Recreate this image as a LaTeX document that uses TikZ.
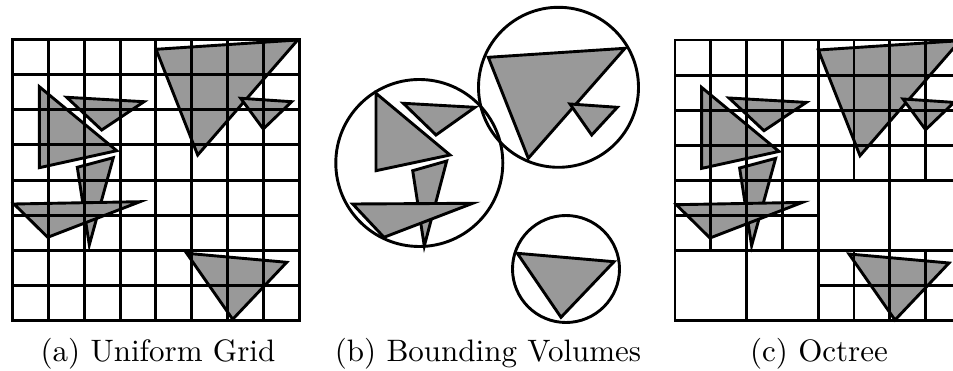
\documentclass[tikz,border=0pt]{standalone}
\usepackage{tikz}

% scene triangles, shared by the grid and the octree panels
\newcommand{\sceneTriangles}{%
    \filldraw[tri] (156,49.3) -- (297.7,40) -- (197.7,155) -- cycle;
    \filldraw[tri] (240.7,98.3) -- (291.7,101.7) -- (263.3,129) -- cycle;
    \filldraw[tri] (39.3,86.7) -- (116.7,150.7) -- (39.3,167.7) -- cycle;
    \filldraw[tri] (66.7,97.3) -- (144,101.7) -- (101.7,130) -- cycle;
    \filldraw[tri] (77.3,167.3) -- (113.3,157.7) -- (89.3,245) -- cycle;
    \filldraw[tri] (14,204) -- (140,201.7) -- (47.7,237.3) -- cycle;
    \filldraw[tri] (186.7,253.3) -- (286.7,262.3) -- (232.7,319.3) -- cycle;
}

\begin{document}
\begin{tikzpicture}[x=1pt, y=-1pt,
    tri/.style={draw=black, fill=black!40, line width=2.9pt},
    cell/.style={draw=black, line width=2.9pt, line cap=rect},
    bvol/.style={draw=black, line width=2.9pt},
    caption/.style={font=\normalsize, scale=3.1, anchor=base}]
    \useasboundingbox (0,0) rectangle (953,371);

    % (a) Uniform grid
    \sceneTriangles
    \begin{scope}[shift={(12.7,39.3)}, x=35.8pt, y=-35.2pt]
        \foreach \i in {0,...,8} {
            \draw[cell] (\i,0) -- (\i,8);
            \draw[cell] (0,\i) -- (8,\i);
        }
    \end{scope}

    % (b) Bounding volumes
    \filldraw[tri] (488.3,57.3) -- (625,48.3) -- (528.3,158.3) -- cycle;
    \filldraw[tri] (570,104) -- (617.3,107.3) -- (591.7,135) -- cycle;
    \filldraw[tri] (376,93.3) -- (450,155) -- (376,170.7) -- cycle;
    \filldraw[tri] (403.3,103.3) -- (475,107.3) -- (436,135) -- cycle;
    \filldraw[tri] (412.7,170.7) -- (446.7,161) -- (424.3,246) -- cycle;
    \filldraw[tri] (352.7,204) -- (472.7,203.3) -- (384,237.3) -- cycle;
    \filldraw[tri] (517.3,253.3) -- (614,261.7) -- (561,317.3) -- cycle;
    \draw[bvol] (419.3,163) circle (83.5);
    \draw[bvol] (558.5,87.3) circle (80);
    \draw[bvol] (566,269) circle (53.5);

    % (c) Octree, cut at the right edge
    \begin{scope}
        \clip (0,0) rectangle (953,371);
        \begin{scope}[shift={(662.3,0.7)}]
            \sceneTriangles
        \end{scope}
        \begin{scope}[shift={(675,40)}, x=35.8pt, y=-35.1pt]
            \draw[cell] (0,0) rectangle (8,8);
            \foreach \j in {1,2,3,4,6}
                \draw[cell] (0,\j) -- (8,\j);
            \draw[cell] (0,5) -- (4,5);
            \draw[cell] (4,7) -- (8,7);
            \foreach \i in {2,4,6}
                \draw[cell] (\i,0) -- (\i,8);
            \foreach \i in {1,3}
                \draw[cell] (\i,0) -- (\i,6);
            \foreach \i in {5,7} {
                \draw[cell] (\i,0) -- (\i,4);
                \draw[cell] (\i,6) -- (\i,8);
            }
        \end{scope}
    \end{scope}

    % Captions
    \node[caption] (capGrid) at (158,361) {(a) Uniform Grid};
    \node[caption] (capBVol) at (488,361) {(b) Bounding Volumes};
    \node[caption] (capOct) at (819,361) {(c) Octree};
\end{tikzpicture}
\end{document}
